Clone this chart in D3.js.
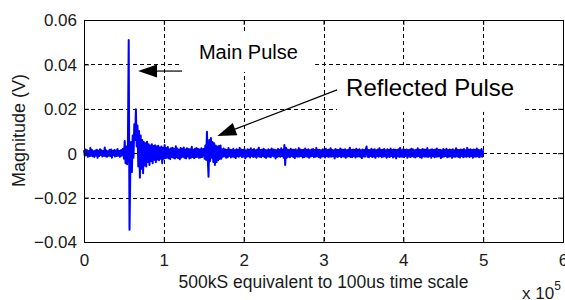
<!DOCTYPE html>
<html>
<head>
<meta charset="utf-8">
<script src="https://cdn.jsdelivr.net/npm/d3@7"></script>
<style>
  html, body { margin: 0; padding: 0; background: #fff; }
  svg { display: block; font-family: "Liberation Sans", Arial, sans-serif; }
</style>
</head>
<body>
<div id="wrapper"></div>
<script>
// tick labels
const xTicks = [0, 1, 2, 3, 4, 5, 6];
const yTicks = [-0.04, -0.02, 0, 0.02, 0.04, 0.06];

// one point every 0.01 x 10^5 samples, starting at 0
const sampleStep = 0.01;

// magnitude in mV
const magnitudeMv = [
  // 0.00 - 0.48 quiet
  1.4,-1.2,1.7,-0.9,1.3,-1.6,1.0,-1.3,2.4,-1.1,
  1.5,-1.4,0.9,-1.7,1.2,-1.0,1.6,-2.1,1.1,-1.3,
  1.8,-0.8,1.3,-1.5,1.0,-1.2,2.6,-1.4,1.2,-1.6,
  0.9,-1.1,1.5,-1.3,1.7,-2.0,1.1,-0.9,1.4,-1.5,
  1.2,-1.3,1.9,-1.1,1.0,-1.6,1.3,-1.2,1.6,
  // 0.49 - 1.01 main pulse + ringing
  2.0,-2.5,5.5,-4.5,3.0,-5.0,4.0,51.0,-34.5,-8.0,
  5.0,-8.5,8.0,-2.0,13.0,6.0,19.8,3.0,12.5,-6.0,
  10.0,-11.0,8.0,-7.0,6.0,-9.0,5.0,-5.5,4.5,-6.0,
  5.2,-4.0,4.0,-5.3,3.5,-3.5,4.0,-4.5,3.2,-3.0,
  3.6,-4.0,3.0,-2.8,3.4,-3.2,2.6,-2.5,3.0,-4.5,
  2.5,-2.5,3.7,
  // 1.02 - 1.49
  -2.2,2.4,-1.9,2.8,-2.3,1.8,-2.6,2.2,-1.7,2.5,
  -2.0,1.9,-2.4,3.1,-1.8,2.1,-2.2,1.6,-2.7,2.3,
  -1.9,2.0,-1.6,2.6,-2.1,1.7,-2.3,2.2,-1.5,1.9,
  -2.4,1.8,-2.0,2.9,-1.7,1.6,-2.2,2.0,-1.8,2.3,
  -1.6,1.9,-2.1,1.7,-1.9,2.2,-1.7,1.8,
  // 1.50 - 1.72 reflected pulse
  2.0,-2.5,3.5,-3.0,9.7,-2.0,-10.6,6.0,-3.5,6.8,
  -2.0,5.0,-4.0,4.5,-5.3,3.5,-4.0,3.0,-3.2,3.2,
  -2.6,3.5,-2.5,
  // 1.73 - 2.49
  1.8,-1.6,2.1,-1.4,1.7,-2.0,1.5,-1.8,2.3,-1.3,
  1.6,-1.9,1.4,-1.5,2.0,-1.7,1.3,-2.2,1.8,-1.4,
  1.5,-1.6,2.4,-1.2,1.7,-1.8,1.4,-1.5,1.9,-2.3,
  1.2,-1.6,1.8,-1.4,1.6,-1.9,2.2,-1.3,1.5,-1.7,
  1.9,-1.5,1.3,-2.0,1.7,-1.4,2.5,-1.6,1.4,-1.8,
  1.6,-1.3,2.0,-1.7,1.5,-2.1,1.3,-1.5,1.8,-1.6,
  1.4,-1.8,2.1,-1.2,1.7,-1.5,1.6,-2.4,1.3,-1.7,
  1.9,-1.4,1.5,-1.6,2.2,-1.3,1.6,
  // 2.50 - 2.54 small blip
  -2.0,3.7,-5.3,2.5,-2.0,
  // 2.55 - 3.53
  1.7,-1.5,1.4,-1.8,2.0,-1.3,1.6,-1.7,1.5,-2.2,
  1.8,-1.4,1.3,-1.6,2.3,-1.5,1.7,-1.3,1.4,-1.9,
  1.6,-1.7,2.1,-1.4,1.5,-1.6,1.8,-2.0,1.3,-1.5,
  1.7,-1.3,1.9,-1.8,1.4,-1.6,2.4,-1.4,1.6,-1.7,
  1.5,-2.1,1.3,-1.5,1.8,-1.4,1.6,-1.9,2.0,-1.3,
  1.4,-1.7,1.7,-1.5,2.2,-1.6,1.5,-1.4,1.3,-2.3,
  1.9,-1.5,1.6,-1.7,1.4,-1.3,2.1,-1.8,1.7,-1.4,
  1.5,-1.6,1.8,-2.0,1.3,-1.5,1.6,-1.4,2.5,-1.7,
  1.4,-1.8,1.7,-1.3,1.5,-1.9,2.0,-1.5,1.6,-1.4,
  1.8,-1.6,1.3,-2.2,1.7,-1.5,1.4,-1.6,1.9,
  // 3.54 - 5.00
  3.0,-1.6,1.5,-1.8,1.4,-1.3,2.0,-1.7,1.6,-1.5,
  1.8,-2.1,1.3,-1.4,1.7,-1.6,2.2,-1.3,1.5,-1.8,
  1.6,-1.5,1.9,-1.4,1.3,-2.0,1.8,-1.6,1.4,-1.7,
  2.1,-1.3,1.5,-1.9,1.7,-1.5,1.6,-2.3,1.4,-1.4,
  1.8,-1.7,2.4,-1.5,1.3,-1.6,1.9,-1.8,1.5,-1.3,
  1.7,-2.0,1.4,-1.5,1.6,-1.7,2.0,-1.4,1.8,-1.6,
  1.3,-1.9,1.5,-1.5,2.2,-1.3,1.6,-1.8,1.4,-2.1,
  1.9,-1.4,1.7,-1.6,1.5,-1.5,2.3,-1.7,1.3,-1.4,
  1.6,-2.0,1.8,-1.3,1.4,-1.8,1.7,-1.6,2.1,-1.5,
  1.5,-1.4,1.6,-2.2,1.3,-1.7,1.9,-1.5,1.6,-1.3,
  2.0,-1.8,1.4,-1.6,1.7,-1.4,1.5,-2.1,1.8,-1.5,
  1.3,-1.6,2.2,-1.4,1.6,-1.7,1.4,-1.9,1.7,-1.3,
  1.5,-1.8,1.9,-1.5,1.3,-1.6,2.4,-1.4,1.6,-1.7,
  1.8,-1.3,1.4,-2.0,1.7,-1.5,1.5,-1.6,2.1,-1.4,
  1.6,-1.8,1.3,-1.5,1.9,-1.6,1.4
];

// text boxes + arrows, in data units (x10^5, V)
const annotations = [
  { label: "Main Pulse", fontSize: 20, x: 1.44, y: 0.0424,
    box: { x0: 1.203, x1: 2.895, y0: 0.0366, y1: 0.0541 },
    arrow: { from: [1.228, 0.037], to: [0.677, 0.037] } },
  { label: "Reflected Pulse", fontSize: 24, x: 3.283, y: 0.0258,
    box: { x0: 3.17, x1: 5.501, y0: 0.0186, y1: 0.0397 },
    arrow: { from: [3.17, 0.0285], to: [1.67, 0.00775] } }
];

function drawChart() {
  const dimensions = {
    width: 565,
    height: 300,
    margin: { top: 20, right: 2, bottom: 58, left: 84 }
  };
  dimensions.boundsWidth = dimensions.width - dimensions.margin.left - dimensions.margin.right;
  dimensions.boundsHeight = dimensions.height - dimensions.margin.top - dimensions.margin.bottom;

  const svg = d3.select("#wrapper").append("svg")
    .attr("width", dimensions.width)
    .attr("height", dimensions.height);

  const bounds = svg.append("g")
    .attr("transform", `translate(${dimensions.margin.left},${dimensions.margin.top})`);

  const xScale = d3.scaleLinear().domain([0, 6]).range([0, dimensions.boundsWidth]);
  const yScale = d3.scaleLinear().domain([-0.04, 0.06]).range([dimensions.boundsHeight, 0]);

  const textColor = "#1a1a1a";

  // dashed grid
  const grid = bounds.append("g")
    .attr("stroke", "#000")
    .attr("stroke-width", 1)
    .attr("stroke-dasharray", "4,3");
  grid.selectAll(".vgrid")
    .data(xTicks.slice(1, -1))
    .join("line")
    .attr("x1", d => Math.round(xScale(d)) + 0.5)
    .attr("x2", d => Math.round(xScale(d)) + 0.5)
    .attr("y1", 0)
    .attr("y2", dimensions.boundsHeight);
  grid.selectAll(".hgrid")
    .data(yTicks.slice(1, -1))
    .join("line")
    .attr("y1", d => Math.round(yScale(d)) + 0.5)
    .attr("y2", d => Math.round(yScale(d)) + 0.5)
    .attr("x1", 0)
    .attr("x2", dimensions.boundsWidth);

  // signal
  const lineGenerator = d3.line()
    .x((d, i) => xScale(i * sampleStep))
    .y(d => yScale(d / 1000));
  bounds.append("path")
    .attr("d", lineGenerator(magnitudeMv))
    .attr("fill", "none")
    .attr("stroke", "#0000ff")
    .attr("stroke-width", 2)
    .attr("stroke-linejoin", "round");

  // annotation boxes, text, arrows
  annotations.forEach(a => {
    bounds.append("rect")
      .attr("x", xScale(a.box.x0))
      .attr("y", yScale(a.box.y1))
      .attr("width", xScale(a.box.x1) - xScale(a.box.x0))
      .attr("height", yScale(a.box.y0) - yScale(a.box.y1))
      .attr("fill", "#fff");
    bounds.append("text")
      .attr("x", xScale(a.x))
      .attr("y", yScale(a.y))
      .attr("font-size", a.fontSize)
      .attr("fill", "#000")
      .text(a.label);

    const x1 = xScale(a.arrow.from[0]), y1 = yScale(a.arrow.from[1]);
    const x2 = xScale(a.arrow.to[0]), y2 = yScale(a.arrow.to[1]);
    const ang = Math.atan2(y2 - y1, x2 - x1);
    const headLen = 19, headHalf = 6.5;
    const bx = x2 - headLen * Math.cos(ang), by = y2 - headLen * Math.sin(ang);
    bounds.append("line")
      .attr("x1", x1).attr("y1", y1)
      .attr("x2", bx).attr("y2", by)
      .attr("stroke", "#000")
      .attr("stroke-width", 1.2);
    const px = -Math.sin(ang), py = Math.cos(ang);
    bounds.append("path")
      .attr("d", `M${x2},${y2}L${bx + headHalf * px},${by + headHalf * py}L${bx - headHalf * px},${by - headHalf * py}Z`)
      .attr("fill", "#000");
  });

  // frame with inward ticks (matlab style)
  const xAxis = d3.axisBottom(xScale).tickValues(xTicks).tickSize(-5).tickPadding(12).tickFormat(d3.format("d"));
  const yAxis = d3.axisLeft(yScale).tickValues(yTicks).tickSize(-5).tickPadding(12)
    .tickFormat(d => d === 0 ? "0" : d3.format(".2f")(d));

  const xAxisG = bounds.append("g")
    .attr("transform", `translate(0,${dimensions.boundsHeight})`)
    .call(xAxis);
  const yAxisG = bounds.append("g").call(yAxis);
  bounds.append("g").call(d3.axisTop(xScale).tickValues(xTicks).tickSize(-5).tickFormat(""));
  bounds.append("g")
    .attr("transform", `translate(${dimensions.boundsWidth},0)`)
    .call(d3.axisRight(yScale).tickValues(yTicks).tickSize(-5).tickFormat(""));

  bounds.selectAll(".domain").attr("stroke", "#000");
  bounds.selectAll(".tick line").attr("stroke", "#000");
  [xAxisG, yAxisG].forEach(g => g.selectAll(".tick text")
    .attr("font-family", "Liberation Sans, Arial, sans-serif")
    .attr("font-size", 17)
    .attr("fill", textColor));
  xAxisG.selectAll(".tick text").attr("dy", "0.71em");
  yAxisG.selectAll(".tick text").attr("x", -7).attr("dy", "0.35em");

  // axis labels
  svg.append("text")
    .attr("x", dimensions.margin.left + dimensions.boundsWidth / 2)
    .attr("y", 288)
    .attr("text-anchor", "middle")
    .attr("font-size", 17.5)
    .attr("fill", textColor)
    .text("500kS equivalent to 100us time scale");

  svg.append("text")
    .attr("transform", `translate(25,${dimensions.margin.top + dimensions.boundsHeight / 2 - 0.5}) rotate(-90)`)
    .attr("text-anchor", "middle")
    .attr("font-size", 18)
    .attr("fill", textColor)
    .text("Magnitude (V)");

  const expo = svg.append("text")
    .attr("x", 522)
    .attr("y", 299)
    .attr("font-size", 17)
    .attr("fill", textColor);
  expo.append("tspan").text("x 10");
  expo.append("tspan").attr("dy", -9).attr("font-size", 12).text("5");
}

drawChart();
</script>
</body>
</html>
